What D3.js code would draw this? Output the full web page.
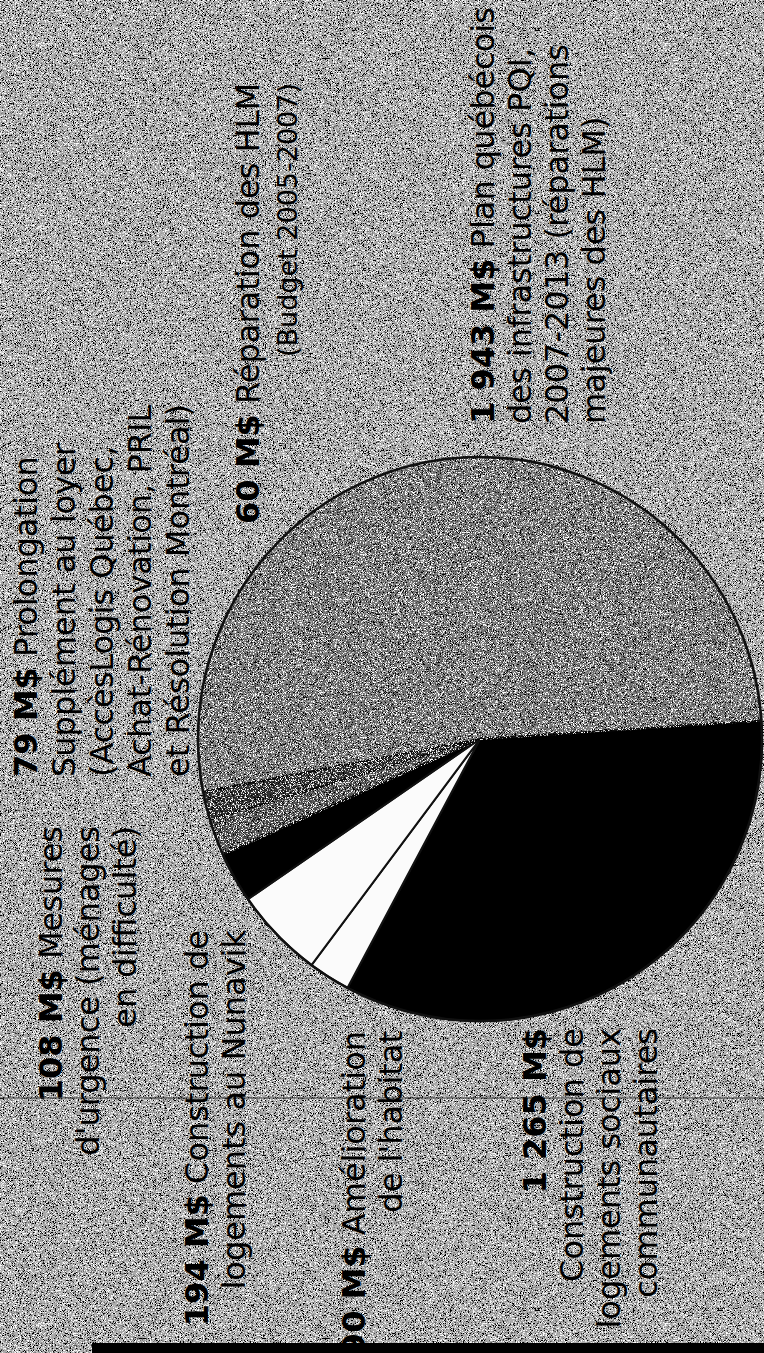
<!DOCTYPE html>
<html>
<head>
<meta charset="utf-8">
<script src="https://cdn.jsdelivr.net/npm/d3@7"></script>
<style>
  html, body { margin: 0; padding: 0; background: #aaaaaa; }
  svg { display: block; }
  text { font-family: "DejaVu Sans", Verdana, sans-serif; fill: #000; }
</style>
</head>
<body>
<svg id="chart" width="764" height="1353"></svg>
<script>
// Slices, clockwise from the right-hand edge of the pie
const amounts = ["1 265 M$", "90 M$", "194 M$", "108 M$", "79 M$", "60 M$", "1 943 M$"];
const values = [1265, 90, 194, 108, 79, 60, 1943];
const labelLines = [
    ["", "Construction de", "logements sociaux", "communautaires"],
    [" Amélioration", "de l'habitat"],
    [" Construction de", "logements au Nunavik"],
    [" Mesures", "d'urgence (ménages", "en difficulté)"],
    [" Prolongation", "Supplément au loyer", "(AccèsLogis Québec,", "Achat-Rénovation, PRIL", "et Résolution Montréal)"],
    [" Réparation des HLM", "(Budget 2005-2007)"],
    [" Plan québécois", "des infrastructures PQI,", "2007-2013 (réparations", "majeures des HLM)"]
];
const sliceColors = ["#000000", "#fbfbfb", "#fbfbfb", "#000000", "#555555", "#333333", "#787878"];

// where each rotated label block sits (first baseline x, anchor y)
const labelLayout = [
    { x: 546, y: 1028, anchor: "end", pitch: 37 },
    { x: 365, y: 1031, anchor: "end", pitch: 37 },
    { x: 208, y: 930, anchor: "end", pitch: 37 },
    { x: 62, y: 826, anchor: "end", pitch: 37 },
    { x: 37, y: 777, anchor: "start", pitch: 38 },
    { x: 259, y: 83, anchor: "end", pitch: 38, smallLast: true },
    { x: 494, y: 424, anchor: "start", pitch: 37 }
];

const W = 764, H = 1353;
const svg = d3.select("#chart");

// grain filter to mimic the scanned halftone
const defs = svg.append("defs");
const grain = defs.append("filter").attr("id", "grain")
    .attr("x", 0).attr("y", 0).attr("width", "100%").attr("height", "100%");
grain.append("feTurbulence")
    .attr("type", "fractalNoise").attr("baseFrequency", 1.4)
    .attr("numOctaves", 1).attr("seed", 5).attr("result", "noise");
grain.append("feColorMatrix").attr("in", "noise").attr("type", "matrix")
    .attr("values", "0 0 0 0 0  0 0 0 0 0  0 0 0 0 0  9 0 0 0 -4.9")
    .attr("result", "dark");
grain.append("feColorMatrix").attr("in", "noise").attr("type", "matrix")
    .attr("values", "0 0 0 0 1  0 0 0 0 1  0 0 0 0 1  -9 0 0 0 4.1")
    .attr("result", "light");
const merge = grain.append("feMerge").attr("result", "mixed");
merge.append("feMergeNode").attr("in", "SourceGraphic");
merge.append("feMergeNode").attr("in", "dark");
merge.append("feMergeNode").attr("in", "light");
grain.append("feComposite").attr("in", "mixed").attr("in2", "SourceGraphic").attr("operator", "in");

// Background
svg.append("rect")
    .attr("width", W).attr("height", H)
    .attr("fill", "#ababab")
    .attr("filter", "url(#grain)");

// thin rule across the page and black bar at the foot
svg.append("line")
    .attr("x1", 0).attr("x2", W).attr("y1", 1098).attr("y2", 1098)
    .attr("stroke", "#333").attr("stroke-width", 1.2);
svg.append("rect")
    .attr("x", 92).attr("y", 1343).attr("width", W - 92).attr("height", 10)
    .attr("fill", "#000");

// Pie
const cx = 480, cy = 739, radius = 282;
const a0 = 86.24 * Math.PI / 180;
const pie = d3.pie().sort(null).value(d => d)
    .startAngle(a0).endAngle(a0 + 2 * Math.PI);
const arc = d3.arc().innerRadius(0).outerRadius(radius);

const g = svg.append("g").attr("transform", `translate(${cx},${cy})`);
g.selectAll("path.slice")
    .data(pie(values))
    .enter().append("path")
    .attr("class", "slice")
    .attr("d", arc)
    .attr("fill", (d, i) => sliceColors[i])
    .attr("stroke", "#111")
    .attr("stroke-width", 2)
    .attr("stroke-linejoin", "round")
    .attr("filter", (d, i) => (i >= 4 ? "url(#grain)" : null));

g.append("circle")
    .attr("r", radius)
    .attr("fill", "none")
    .attr("stroke", "#111")
    .attr("stroke-width", 2.5);

// Labels, rotated to read bottom to top
labelLines.forEach((lines, i) => {
    const lay = labelLayout[i];
    const block = svg.append("g")
        .attr("transform", `translate(${lay.x},${lay.y}) rotate(-90)`);
    lines.forEach((line, j) => {
        const t = block.append("text")
            .attr("x", 0)
            .attr("y", j * lay.pitch)
            .attr("text-anchor", lay.anchor)
            .style("font-size", (lay.smallLast && j === lines.length - 1) ? "27px" : "32px");
        if (j === 0) {
            t.append("tspan").attr("font-weight", "bold").text(amounts[i]);
            t.append("tspan").text(line);
        } else {
            t.text(line);
        }
    });
});
</script>
</body>
</html>
